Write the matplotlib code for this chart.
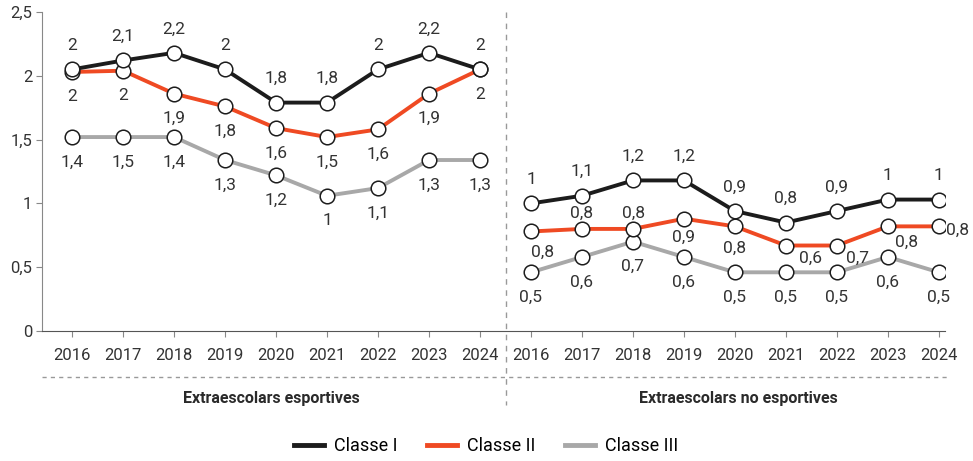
import numpy as np
import matplotlib.pyplot as plt

plt.rcParams['font.family'] = ['Roboto', 'DejaVu Sans']

years = ['2016', '2017', '2018', '2019', '2020', '2021', '2022', '2023', '2024']
groups = ['Extraescolars esportives', 'Extraescolars no esportives']
series_names = ['Classe I', 'Classe II', 'Classe III']

# plotted values
esp_c1 = [2.05, 2.12, 2.18, 2.05, 1.79, 1.79, 2.05, 2.18, 2.05]
esp_c2 = [2.03, 2.04, 1.86, 1.76, 1.59, 1.52, 1.58, 1.86, 2.05]
esp_c3 = [1.52, 1.52, 1.52, 1.34, 1.22, 1.06, 1.12, 1.34, 1.34]
noesp_c1 = [1.00, 1.06, 1.18, 1.18, 0.94, 0.85, 0.94, 1.03, 1.03]
noesp_c2 = [0.78, 0.80, 0.80, 0.88, 0.82, 0.67, 0.67, 0.82, 0.82]
noesp_c3 = [0.46, 0.58, 0.70, 0.58, 0.46, 0.46, 0.46, 0.58, 0.46]

# printed labels
esp_c1_lab = ['2', '2,1', '2,2', '2', '1,8', '1,8', '2', '2,2', '2']
esp_c2_lab = ['2', '2', '1,9', '1,8', '1,6', '1,5', '1,6', '1,9', '2']
esp_c3_lab = ['1,4', '1,5', '1,4', '1,3', '1,2', '1', '1,1', '1,3', '1,3']
noesp_c1_lab = ['1', '1,1', '1,2', '1,2', '0,9', '0,8', '0,9', '1', '1']
noesp_c2_lab = ['0,8', '0,8', '0,8', '0,9', '0,8', '0,6', '0,7', '0,8', '0,8']
noesp_c3_lab = ['0,5', '0,6', '0,7', '0,6', '0,5', '0,5', '0,5', '0,6', '0,5']

colors = ['#1c1c1c', '#ef4a23', '#a8a8a8']

PX = 0.72  # points per pixel at dpi 100

fig = plt.figure(figsize=(9.73, 4.61), dpi=100)
ax = fig.add_axes([42 / 973, 1 - 331 / 461, (945 - 42) / 973, (331 - 12) / 461])

n = len(years)
x_left = np.arange(n)
x_right = np.arange(n) + n

panels = [
    (x_left, [esp_c1, esp_c2, esp_c3], [esp_c1_lab, esp_c2_lab, esp_c3_lab]),
    (x_right, [noesp_c1, noesp_c2, noesp_c3], [noesp_c1_lab, noesp_c2_lab, noesp_c3_lab]),
]

# label offsets in pixels (dx, dy down positive)
default_off = [(0, -24), (0, 25), (0, 25)]
right_red_off = [(12, 21), (0, -16), (1, -16), (0, 19), (0, 22), (25, 13), (21, 13), (19, 16), (19, 4)]

for p, (xs, vals, labs) in enumerate(panels):
    for s in range(3):
        ax.plot(xs, vals[s], color=colors[s], lw=2.8, marker='o', ms=10.5,
                mfc='white', mec='#1c1c1c', mew=1.1, zorder=3 + (2 - s),
                label=series_names[s] if p == 0 else None)
        for i in range(n):
            if p == 1 and s == 1:
                dx, dy = right_red_off[i]
            else:
                dx, dy = default_off[s]
            ax.annotate(labs[s][i], (xs[i], vals[s][i]), xytext=(dx * PX, -dy * PX),
                        textcoords='offset points', ha='center', va='center',
                        fontsize=12.5, color='#333333', zorder=10)

ax.set_xlim(-0.59, 2 * n - 1 + 0.12)
ax.set_ylim(0, 2.5)
ax.set_yticks([0, 0.5, 1, 1.5, 2, 2.5])
ax.set_yticklabels(['0', '0,5', '1', '1,5', '2', '2,5'])
ax.set_xticks(np.concatenate([x_left, x_right]))
ax.set_xticklabels(years + years)
ax.tick_params(axis='both', labelsize=12, colors='#333333', length=4, color='#888888')
ax.tick_params(axis='x', pad=8)
ax.tick_params(axis='y', pad=3)
for side in ['top', 'right']:
    ax.spines[side].set_visible(False)
ax.spines['left'].set_color('#888888')
ax.spines['bottom'].set_color('#555555')

# dividers
fig.add_artist(plt.Line2D([42 / 973, 950 / 973], [1 - 377 / 461] * 2, transform=fig.transFigure,
                          color='#999999', lw=1, ls=(0, (3, 3))))
fig.add_artist(plt.Line2D([506 / 973] * 2, [1 - 12 / 461, 1 - 405 / 461], transform=fig.transFigure,
                          color='#999999', lw=1, ls=(0, (4, 4))))

fig.text(271 / 973, 1 - 398 / 461, groups[0], ha='center', va='center', fontsize=11.5,
         fontweight='bold', color='#2a2a2a')
fig.text(738 / 973, 1 - 398 / 461, groups[1], ha='center', va='center', fontsize=11.5,
         fontweight='bold', color='#2a2a2a')

leg = fig.legend(loc='center', bbox_to_anchor=(486 / 973, 1 - 446 / 461), ncol=3, frameon=False,
                 fontsize=13, handlelength=1.66, columnspacing=1.66, handletextpad=0.55)
for h in leg.legend_handles:
    h.set_marker('')
    h.set_linewidth(3.5)

fig.savefig('out.png', dpi=100)
